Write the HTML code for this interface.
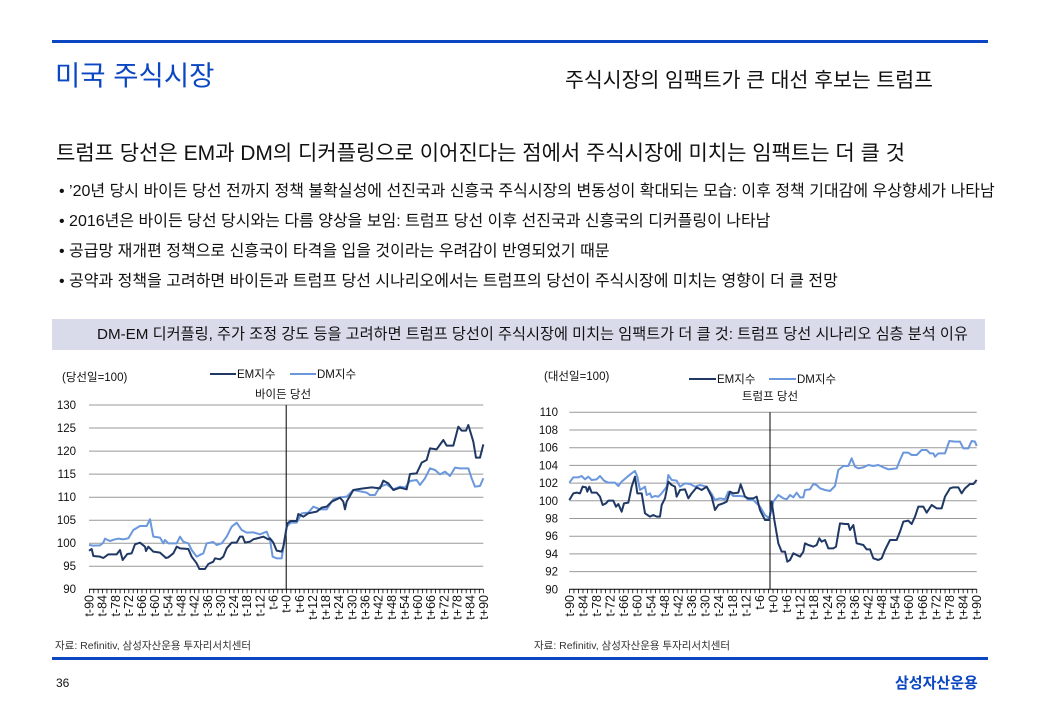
<!DOCTYPE html>
<html><head><meta charset="utf-8">
<style>
body{margin:0;width:1040px;height:720px;background:#fff;font-family:"Liberation Sans","Noto Sans CJK KR",sans-serif;color:#111;position:relative;overflow:hidden}
.a{position:absolute;white-space:nowrap}
svg text{font-family:"Liberation Sans","Noto Sans CJK KR",sans-serif;fill:#111}
.g{stroke:#999;stroke-width:1}
.yl{font-size:11.5px;text-anchor:end}
.tl{font-size:12.5px;text-anchor:end}
</style></head><body>
<div class="a" style="left:52px;top:40px;width:936px;height:3px;background:#0b47c2"></div>
<div class="a" style="left:55px;top:53px;font-size:27.5px;color:#0b47c2">미국 주식시장</div>
<div class="a" style="left:565px;top:63px;font-size:20.5px">주식시장의 임팩트가 큰 대선 후보는 트럼프</div>
<div class="a" style="left:56px;top:137px;font-size:21px">트럼프 당선은 EM과 DM의 디커플링으로 이어진다는 점에서 주식시장에 미치는 임팩트는 더 클 것</div>
<div class="a" style="left:59px;top:177px;font-size:16px;line-height:30px">• ’20년 당시 바이든 당선 전까지 정책 불확실성에 선진국과 신흥국 주식시장의 변동성이 확대되는 모습: 이후 정책 기대감에 우상향세가 나타남<br>• 2016년은 바이든 당선 당시와는 다름 양상을 보임: 트럼프 당선 이후 선진국과 신흥국의 디커플링이 나타남<br>• 공급망 재개편 정책으로 신흥국이 타격을 입을 것이라는 우려감이 반영되었기 때문<br>• 공약과 정책을 고려하면 바이든과 트럼프 당선 시나리오에서는 트럼프의 당선이 주식시장에 미치는 영향이 더 클 전망</div>
<div class="a" style="left:52px;top:319px;width:933px;height:31px;background:#d9dbea"></div>
<div class="a" style="left:97px;top:319px;font-size:15.2px;line-height:31px">DM-EM 디커플링, 주가 조정 강도 등을 고려하면 트럼프 당선이 주식시장에 미치는 임팩트가 더 클 것: 트럼프 당선 시나리오 심층 분석 이유</div>

<svg class="a" style="left:0;top:0" width="1040" height="720">
<!-- LEFT CHART -->
<g>
<line class="g" x1="89" x2="483.3" y1="405" y2="405"/>
<line class="g" x1="89" x2="483.3" y1="428" y2="428"/>
<line class="g" x1="89" x2="483.3" y1="451.1" y2="451.1"/>
<line class="g" x1="89" x2="483.3" y1="474.1" y2="474.1"/>
<line class="g" x1="89" x2="483.3" y1="497.2" y2="497.2"/>
<line class="g" x1="89" x2="483.3" y1="520.2" y2="520.2"/>
<line class="g" x1="89" x2="483.3" y1="543.2" y2="543.2"/>
<line class="g" x1="89" x2="483.3" y1="566.3" y2="566.3"/>
<line x1="89" x2="483.3" y1="589.3" y2="589.3" stroke="#000"/>
<line x1="89" x2="484" y1="591.3" y2="591.3" stroke="#000" stroke-width="4" stroke-dasharray="0.8 3.581"/>
<line x1="286.2" x2="286.2" y1="405" y2="589.3" stroke="#000"/>
<text class="yl" x="76" y="409">130</text><text class="yl" x="76" y="432">125</text><text class="yl" x="76" y="455">120</text><text class="yl" x="76" y="478">115</text><text class="yl" x="76" y="501">110</text><text class="yl" x="76" y="524">105</text><text class="yl" x="76" y="547">100</text><text class="yl" x="76" y="570">95</text><text class="yl" x="76" y="593">90</text>
<text class="tl" transform="translate(93.5,595) rotate(-90)">t-90</text>
<text class="tl" transform="translate(106.6,595) rotate(-90)">t-84</text>
<text class="tl" transform="translate(119.8,595) rotate(-90)">t-78</text>
<text class="tl" transform="translate(132.9,595) rotate(-90)">t-72</text>
<text class="tl" transform="translate(146.1,595) rotate(-90)">t-66</text>
<text class="tl" transform="translate(159.2,595) rotate(-90)">t-60</text>
<text class="tl" transform="translate(172.4,595) rotate(-90)">t-54</text>
<text class="tl" transform="translate(185.5,595) rotate(-90)">t-48</text>
<text class="tl" transform="translate(198.7,595) rotate(-90)">t-42</text>
<text class="tl" transform="translate(211.8,595) rotate(-90)">t-36</text>
<text class="tl" transform="translate(224.9,595) rotate(-90)">t-30</text>
<text class="tl" transform="translate(238.1,595) rotate(-90)">t-24</text>
<text class="tl" transform="translate(251.2,595) rotate(-90)">t-18</text>
<text class="tl" transform="translate(264.4,595) rotate(-90)">t-12</text>
<text class="tl" transform="translate(277.5,595) rotate(-90)">t-6</text>
<text class="tl" transform="translate(290.7,595) rotate(-90)">t+0</text>
<text class="tl" transform="translate(303.8,595) rotate(-90)">t+6</text>
<text class="tl" transform="translate(316.9,595) rotate(-90)">t+12</text>
<text class="tl" transform="translate(330.1,595) rotate(-90)">t+18</text>
<text class="tl" transform="translate(343.2,595) rotate(-90)">t+24</text>
<text class="tl" transform="translate(356.4,595) rotate(-90)">t+30</text>
<text class="tl" transform="translate(369.5,595) rotate(-90)">t+36</text>
<text class="tl" transform="translate(382.7,595) rotate(-90)">t+42</text>
<text class="tl" transform="translate(395.8,595) rotate(-90)">t+48</text>
<text class="tl" transform="translate(409,595) rotate(-90)">t+54</text>
<text class="tl" transform="translate(422.1,595) rotate(-90)">t+60</text>
<text class="tl" transform="translate(435.2,595) rotate(-90)">t+66</text>
<text class="tl" transform="translate(448.4,595) rotate(-90)">t+72</text>
<text class="tl" transform="translate(461.5,595) rotate(-90)">t+78</text>
<text class="tl" transform="translate(474.7,595) rotate(-90)">t+84</text>
<text class="tl" transform="translate(487.8,595) rotate(-90)">t+90</text>
<g transform="translate(50,360) scale(0.33333)" fill="none" stroke-width="6" stroke-linejoin="round">
<polyline stroke="#6b97dc" points="117,555 130,557 150,556 160,548 165,536 180,543 195,538 205,536 220,538 235,535 250,510 270,498 290,498 300,478 310,530 330,533 340,550 345,540 355,550 380,550 390,530 400,545 415,550 425,570 440,590 460,580 470,550 490,546 500,555 515,550 530,530 545,500 560,488 575,510 590,518 610,517 630,523 650,515 660,540 668,590 680,595 695,595 710,500 722,488 740,488 755,460 775,458 790,440 810,448 830,448 850,418 870,412 890,410 910,390 935,395 950,398 960,405 975,405 990,380 1010,373 1030,388 1050,380 1065,383 1080,363 1100,360 1110,375 1125,355 1140,325 1155,330 1170,343 1185,335 1200,348 1215,323 1230,325 1255,325 1265,355 1275,380 1290,378 1300,355"/>
<polyline stroke="#1f3864" points="117,572 125,567 130,588 150,590 160,594 175,583 200,583 210,570 218,600 232,582 245,580 255,553 270,548 285,560 288,573 295,560 310,575 330,578 348,594 355,592 370,580 380,560 390,565 415,567 425,590 440,610 448,627 465,627 475,612 490,605 495,595 510,598 520,590 530,565 545,548 560,548 570,530 578,530 585,548 600,545 610,538 640,530 655,538 660,535 670,548 680,572 695,575 700,560 712,490 722,483 740,483 745,462 760,470 775,460 800,455 815,443 830,440 845,425 870,413 880,425 885,448 890,425 910,390 935,386 965,382 990,385 1000,362 1015,370 1030,390 1050,383 1070,388 1080,342 1100,340 1115,308 1130,300 1140,265 1160,268 1180,240 1190,257 1210,257 1225,200 1235,212 1248,212 1255,195 1270,245 1278,293 1290,293 1300,253"/>
</g>
<text x="62" y="381" font-size="11.5">(당선일=100)</text>
<line x1="210" x2="236" y1="374" y2="374" stroke="#1f3864" stroke-width="2"/><text x="237" y="378" font-size="11.5">EM지수</text>
<line x1="290" x2="316" y1="374" y2="374" stroke="#6b97dc" stroke-width="2"/><text x="317" y="378" font-size="11.5">DM지수</text>
<text x="283" y="398" font-size="11.5" text-anchor="middle">바이든 당선</text>
</g>

<!-- RIGHT CHART -->
<g>
<line class="g" x1="569.3" x2="976.7" y1="412.3" y2="412.3"/>
<line class="g" x1="569.3" x2="976.7" y1="430" y2="430"/>
<line class="g" x1="569.3" x2="976.7" y1="447.7" y2="447.7"/>
<line class="g" x1="569.3" x2="976.7" y1="465.4" y2="465.4"/>
<line class="g" x1="569.3" x2="976.7" y1="483.1" y2="483.1"/>
<line class="g" x1="569.3" x2="976.7" y1="500.8" y2="500.8"/>
<line class="g" x1="569.3" x2="976.7" y1="518.5" y2="518.5"/>
<line class="g" x1="569.3" x2="976.7" y1="536.2" y2="536.2"/>
<line class="g" x1="569.3" x2="976.7" y1="553.9" y2="553.9"/>
<line class="g" x1="569.3" x2="976.7" y1="571.6" y2="571.6"/>
<line x1="569.3" x2="976.7" y1="589.3" y2="589.3" stroke="#000"/>
<line x1="569" x2="977.5" y1="591.3" y2="591.3" stroke="#000" stroke-width="4" stroke-dasharray="0.8 3.726"/>
<line x1="770" x2="770" y1="412.3" y2="589.3" stroke="#000"/>
<text class="yl" x="558" y="416">110</text><text class="yl" x="558" y="434">108</text><text class="yl" x="558" y="451.7">106</text><text class="yl" x="558" y="469.4">104</text><text class="yl" x="558" y="487.1">102</text><text class="yl" x="558" y="504.8">100</text><text class="yl" x="558" y="522.5">98</text><text class="yl" x="558" y="540.2">96</text><text class="yl" x="558" y="557.9">94</text><text class="yl" x="558" y="575.6">92</text><text class="yl" x="558" y="593.3">90</text>
<text class="tl" transform="translate(573.8,595) rotate(-90)">t-90</text>
<text class="tl" transform="translate(587.4,595) rotate(-90)">t-84</text>
<text class="tl" transform="translate(601,595) rotate(-90)">t-78</text>
<text class="tl" transform="translate(614.6,595) rotate(-90)">t-72</text>
<text class="tl" transform="translate(628.1,595) rotate(-90)">t-66</text>
<text class="tl" transform="translate(641.7,595) rotate(-90)">t-60</text>
<text class="tl" transform="translate(655.3,595) rotate(-90)">t-54</text>
<text class="tl" transform="translate(668.9,595) rotate(-90)">t-48</text>
<text class="tl" transform="translate(682.4,595) rotate(-90)">t-42</text>
<text class="tl" transform="translate(696,595) rotate(-90)">t-36</text>
<text class="tl" transform="translate(709.6,595) rotate(-90)">t-30</text>
<text class="tl" transform="translate(723.2,595) rotate(-90)">t-24</text>
<text class="tl" transform="translate(736.8,595) rotate(-90)">t-18</text>
<text class="tl" transform="translate(750.3,595) rotate(-90)">t-12</text>
<text class="tl" transform="translate(763.9,595) rotate(-90)">t-6</text>
<text class="tl" transform="translate(777.5,595) rotate(-90)">t+0</text>
<text class="tl" transform="translate(791.1,595) rotate(-90)">t+6</text>
<text class="tl" transform="translate(804.6,595) rotate(-90)">t+12</text>
<text class="tl" transform="translate(818.2,595) rotate(-90)">t+18</text>
<text class="tl" transform="translate(831.8,595) rotate(-90)">t+24</text>
<text class="tl" transform="translate(845.4,595) rotate(-90)">t+30</text>
<text class="tl" transform="translate(858.9,595) rotate(-90)">t+36</text>
<text class="tl" transform="translate(872.5,595) rotate(-90)">t+42</text>
<text class="tl" transform="translate(886.1,595) rotate(-90)">t+48</text>
<text class="tl" transform="translate(899.7,595) rotate(-90)">t+54</text>
<text class="tl" transform="translate(913.2,595) rotate(-90)">t+60</text>
<text class="tl" transform="translate(926.8,595) rotate(-90)">t+66</text>
<text class="tl" transform="translate(940.4,595) rotate(-90)">t+72</text>
<text class="tl" transform="translate(954,595) rotate(-90)">t+78</text>
<text class="tl" transform="translate(967.5,595) rotate(-90)">t+84</text>
<text class="tl" transform="translate(981.1,595) rotate(-90)">t+90</text>
<g transform="translate(530,360) scale(0.33333)" fill="none" stroke-width="6" stroke-linejoin="round">
<polyline stroke="#6b97dc" points="118,368 130,352 145,352 155,348 165,358 175,350 185,360 200,358 210,348 222,362 235,368 255,368 265,378 275,365 290,352 305,340 315,333 322,350 330,390 345,380 350,405 360,400 365,412 375,408 385,410 395,400 410,380 415,345 425,360 440,362 450,380 465,370 480,372 495,380 510,375 530,380 545,402 555,420 570,415 585,418 595,395 610,408 630,408 645,410 655,420 670,420 690,440 705,465 718,475 730,425 745,405 760,415 770,418 780,405 790,412 800,398 810,412 820,412 825,390 840,388 850,372 860,375 870,385 885,390 900,393 915,378 925,330 940,318 955,318 965,295 975,320 985,325 1000,322 1015,315 1030,318 1045,315 1060,322 1075,328 1100,325 1110,300 1120,278 1135,278 1145,285 1160,285 1175,270 1190,270 1200,280 1210,280 1215,290 1225,280 1245,280 1258,243 1275,245 1290,245 1300,265 1315,265 1325,243 1335,245 1340,258"/>
<polyline stroke="#1f3864" points="118,420 130,400 140,398 150,400 158,380 168,382 172,395 178,380 185,398 200,398 210,410 218,435 228,430 235,422 250,422 258,440 265,432 275,455 282,430 295,428 305,380 315,350 322,400 335,400 345,460 360,470 370,465 380,470 390,470 395,435 405,415 415,365 425,375 435,380 440,410 450,390 465,388 475,415 485,400 500,382 515,390 530,380 545,410 555,450 565,435 580,430 590,425 600,395 610,400 625,398 632,373 645,410 655,415 670,415 680,410 690,450 705,480 718,480 725,425 733,480 745,550 755,575 765,575 772,605 780,600 790,580 800,585 810,590 820,575 825,550 835,555 845,558 850,560 860,555 868,535 875,545 885,540 895,565 910,565 918,560 930,490 945,492 955,492 960,510 970,495 980,550 1000,555 1010,568 1020,568 1030,595 1045,600 1055,595 1065,570 1080,540 1100,540 1110,515 1120,485 1135,482 1145,492 1155,470 1165,440 1180,440 1190,458 1205,435 1220,445 1235,445 1245,410 1260,385 1270,382 1285,382 1295,400 1305,385 1320,372 1330,372 1340,360"/>
</g>
<text x="544" y="380" font-size="11.5">(대선일=100)</text>
<line x1="689" x2="716" y1="379" y2="379" stroke="#1f3864" stroke-width="2"/><text x="717" y="383" font-size="11.5">EM지수</text>
<line x1="769" x2="796" y1="379" y2="379" stroke="#6b97dc" stroke-width="2"/><text x="797" y="383" font-size="11.5">DM지수</text>
<text x="770" y="400" font-size="11.5" text-anchor="middle">트럼프 당선</text>
</g>
</svg>

<div class="a" style="left:55px;top:638px;font-size:10.5px;color:#333">자료: Refinitiv, 삼성자산운용 투자리서치센터</div>
<div class="a" style="left:534px;top:638px;font-size:10.5px;color:#333">자료: Refinitiv, 삼성자산운용 투자리서치센터</div>
<div class="a" style="left:52px;top:657px;width:936px;height:3px;background:#0b47c2"></div>
<div class="a" style="left:56px;top:676px;font-size:12px">36</div>
<div class="a" style="left:895px;top:672px;font-size:15px;font-weight:bold;color:#0b47c2">삼성자산운용</div>
</body></html>
